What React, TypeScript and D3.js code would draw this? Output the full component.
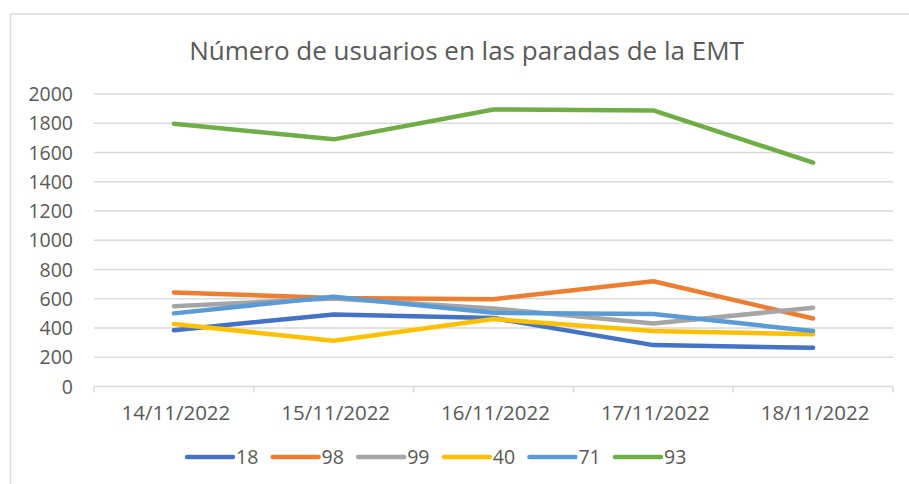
import React from "react";
import * as d3 from "d3";

const categories = ["14/11/2022", "15/11/2022", "16/11/2022", "17/11/2022", "18/11/2022"];
const seriesNames = ["18", "98", "99", "40", "71", "93"];
const colors = ["#4472C4", "#ED7D31", "#A5A5A5", "#FFC000", "#5B9BD5", "#70AD47"];
const s18 = [385, 493, 468, 283, 265];
const s98 = [643, 605, 597, 720, 465];
const s99 = [549, 602, 534, 431, 538];
const s40 = [427, 313, 461, 379, 358];
const s71 = [500, 613, 504, 495, 379];
const s93 = [1797, 1690, 1894, 1888, 1531];
const yTicks = [0, 200, 400, 600, 800, 1000, 1200, 1400, 1600, 1800, 2000];
const title = "Número de usuarios en las paradas de la EMT";

const allSeries = [s18, s98, s99, s40, s71, s93];

export default function App() {
  const W = 909, H = 484;
  const left = 94, right = 893, top = 94, bottom = 386.5;
  const x = d3.scaleBand<string>().domain(categories).range([left, right]);
  const y = d3.scaleLinear().domain([0, 2000]).range([bottom, top]);
  const line = d3
    .line<number>()
    .x((_, i) => (x(categories[i]) as number) + x.bandwidth() / 2)
    .y((d) => y(d));
  const font = "'Open Sans', sans-serif";
  const textColor = "#595959";
  const legendX0 = 187;
  const legendStep = 85.6;
  const legendY = 457;
  return (
    <svg width={W} height={H} style={{ position: "absolute", left: 0, top: 0, background: "#fff" }}>
      <rect x={0} y={0} width={W} height={H} fill="#fff" />
      <rect x={10.5} y={14} width={1000} height={1000} fill="none" stroke="#d9d9d9" strokeWidth={1.5} />
      <text x={466.5} y={60} textAnchor="middle" fontFamily={font} fontSize={26} fill={textColor}>
        {title}
      </text>
      {yTicks.map((t) => (
        <g key={t}>
          {t > 0 && (
            <line x1={left} x2={right} y1={y(t)} y2={y(t)} stroke="#d9d9d9" strokeWidth={1.5} />
          )}
          <text x={73} y={y(t)} dy="0.36em" textAnchor="end" fontFamily={font} fontSize={19.5} fill={textColor}>
            {t}
          </text>
        </g>
      ))}
      <line x1={left} x2={right} y1={bottom} y2={bottom} stroke="#d9d9d9" strokeWidth={1.5} />
      {[...categories.map((c) => x(c) as number), right].map((xx, i) => (
        <line key={i} x1={xx} x2={xx} y1={bottom} y2={bottom + 6} stroke="#d9d9d9" strokeWidth={1.5} />
      ))}
      {categories.map((c) => (
        <text
          key={c}
          x={(x(c) as number) + x.bandwidth() / 2 + 2}
          y={420}
          textAnchor="middle"
          fontFamily={font}
          fontSize={20.5}
          fill={textColor}
        >
          {c}
        </text>
      ))}
      {allSeries.map((s, i) => (
        <path
          key={i}
          d={line(s) as string}
          fill="none"
          stroke={colors[i]}
          strokeWidth={4.5}
          strokeLinejoin="round"
          strokeLinecap="round"
        />
      ))}
      {seriesNames.map((n, i) => {
        const lx = legendX0 + i * legendStep;
        return (
          <g key={n}>
            <line x1={lx} x2={lx + 46} y1={legendY} y2={legendY} stroke={colors[i]} strokeWidth={4.5} strokeLinecap="round" />
            <text x={lx + 49} y={legendY} dy="0.36em" fontFamily={font} fontSize={19.5} fill={textColor}>
              {n}
            </text>
          </g>
        );
      })}
    </svg>
  );
}
